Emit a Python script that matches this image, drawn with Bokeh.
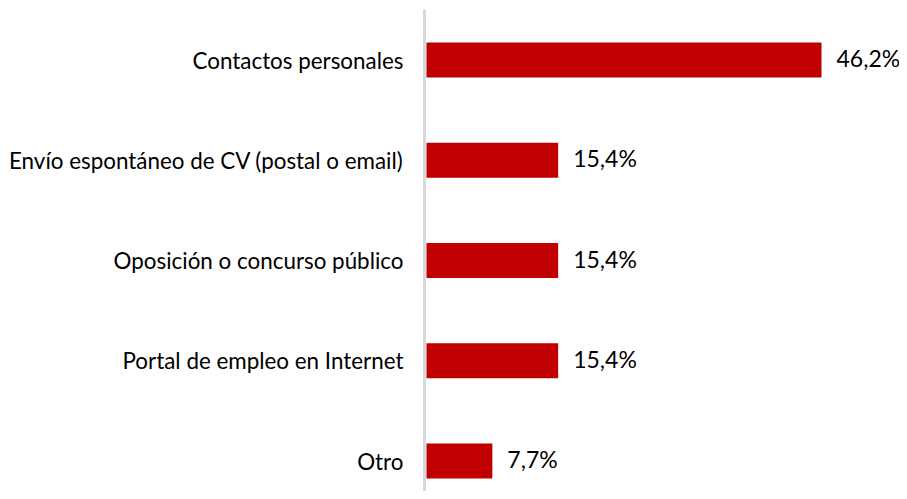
from bokeh.plotting import figure
from bokeh.models import Range1d, FixedTicker, LabelSet, ColumnDataSource
from bokeh.core.properties import value
from bokeh.embed import file_html
from bokeh.resources import INLINE

categories = ["Contactos personales",
              "Envío espontáneo de CV (postal o email)",
              "Oposición o concurso público",
              "Portal de empleo en Internet",
              "Otro"]
values = [46.2, 15.4, 15.4, 15.4, 7.7]
value_labels = ["46,2%", "15,4%", "15,4%", "15,4%", "7,7%"]

n = len(categories)
ypos = [n - 1 - i for i in range(n)]

src = ColumnDataSource(dict(y=ypos, v=values, lab=value_labels, cat=categories))

p = figure(width=899, height=491, output_backend="svg", toolbar_location=None,
           x_range=Range1d(-0.234, 55.32), y_range=Range1d(-0.304, 4.504),
           min_border_left=424, min_border_right=0, min_border_top=9, min_border_bottom=0)
p.outline_line_color = None
p.background_fill_color = "white"
p.border_fill_color = "white"
p.xaxis.visible = False
p.xgrid.visible = False
p.ygrid.visible = False

p.hbar(y="y", right="v", left=0, height=0.35, source=src, color="#C00000", line_color=None)

labels = LabelSet(x="v", y="y", text="lab", source=src, x_offset=15, y_offset=2,
                  text_baseline="middle", text_align="left",
                  text_font=value("Lato"), text_font_size="23px", text_color="black")
p.add_layout(labels)

yax = p.yaxis[0]
yax.ticker = FixedTicker(ticks=ypos)
yax.major_label_overrides = {y: c for y, c in zip(ypos, categories)}
yax.axis_line_color = "#D9D9D9"
yax.axis_line_width = 3
yax.major_tick_line_color = None
yax.minor_tick_line_color = None
yax.major_tick_out = 0
yax.major_tick_in = 0
yax.minor_tick_out = 0
yax.minor_tick_in = 0
yax.major_label_standoff = 21
yax.major_label_text_font = "Lato"
yax.major_label_text_font_size = "22.4px"
yax.major_label_text_color = "black"

open("out.html", "w").write(file_html(p, INLINE))
